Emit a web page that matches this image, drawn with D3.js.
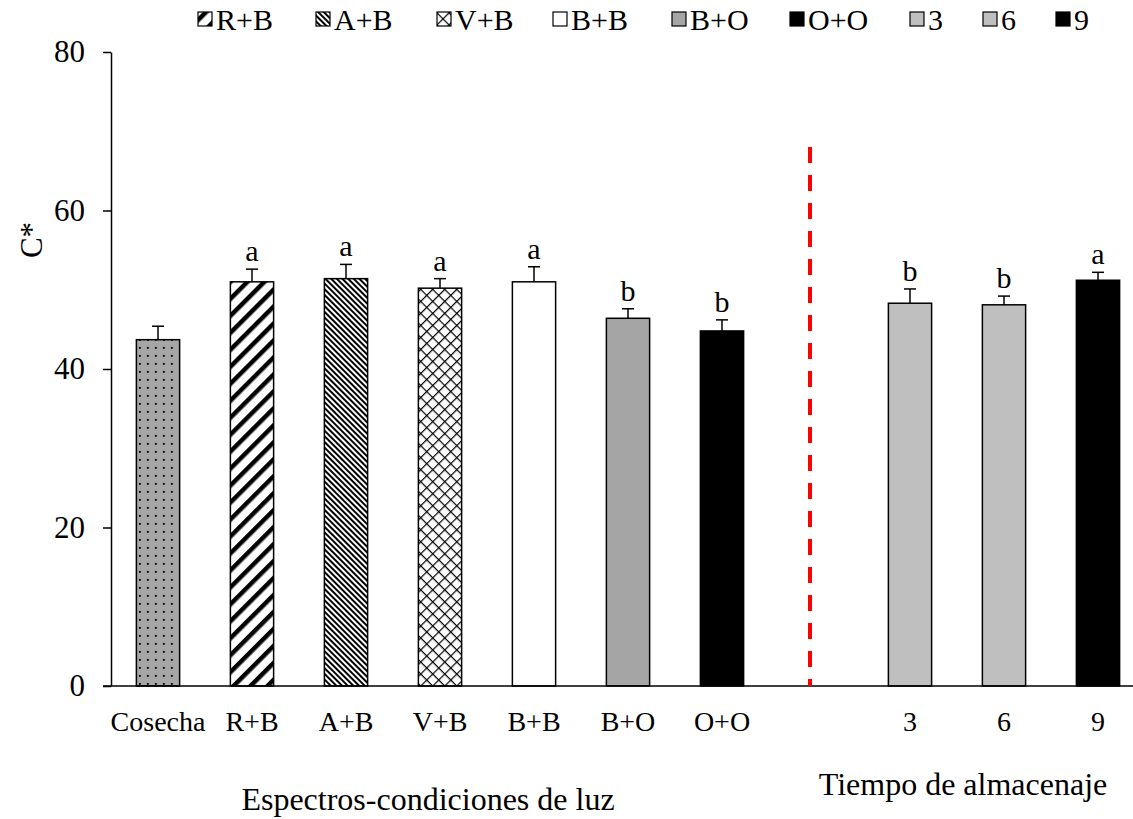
<!DOCTYPE html>
<html>
<head>
<meta charset="utf-8">
<script src="https://cdn.jsdelivr.net/npm/d3@7"></script>
<style>
body { margin: 0; background: #fff; }
svg text { font-family: "Liberation Serif", "Times New Roman", serif; }
</style>
</head>
<body>
<svg id="chart" width="1133" height="819"></svg>
<script>
// data
var categories = ["Cosecha", "R+B", "A+B", "V+B", "B+B", "B+O", "O+O", "", "3", "6", "9"];
var values = [43.7, 51.0, 51.4, 50.2, 51.0, 46.4, 44.8, null, 48.3, 48.1, 51.2];
var errors = [1.7, 1.6, 1.8, 1.2, 1.9, 1.2, 1.4, null, 1.8, 1.1, 1.0];
var letters = ["", "a", "a", "a", "a", "b", "b", "", "b", "b", "a"];
var fills = ["url(#dots)", "url(#wide)", "url(#narrow)", "url(#lattice)", "#ffffff", "#a5a5a5", "#000000", "none", "#bfbfbf", "#bfbfbf", "#000000"];
var legendKeys = ["R+B", "A+B", "V+B", "B+B", "B+O", "O+O", "3", "6", "9"];
var yTicks = [0, 20, 40, 60, 80];

var svg = d3.select("#chart");
var mLeft = 111, mRight = 1145, mTop = 52, mBottom = 686;

var x = d3.scaleBand().domain(categories).range([mLeft, mRight]).paddingInner(0.54).paddingOuter(0.27);
var y = d3.scaleLinear().domain([0, 80]).range([mBottom, mTop]);

// patterns
var defs = svg.append("defs");
var p = defs.append("pattern").attr("id", "dots").attr("patternUnits", "userSpaceOnUse")
  .attr("width", 8).attr("height", 8);
p.append("rect").attr("width", 8).attr("height", 8).attr("fill", "#a6a6a6");
p.append("rect").attr("x", 3).attr("y", 3).attr("width", 1.8).attr("height", 1.8).attr("fill", "#000");

p = defs.append("pattern").attr("id", "wide").attr("patternUnits", "userSpaceOnUse")
  .attr("width", 12).attr("height", 12).attr("patternTransform", "rotate(45)");
p.append("rect").attr("width", 12).attr("height", 12).attr("fill", "#fff");
p.append("rect").attr("width", 4.5).attr("height", 12).attr("fill", "#000");

p = defs.append("pattern").attr("id", "narrow").attr("patternUnits", "userSpaceOnUse")
  .attr("width", 4).attr("height", 4).attr("patternTransform", "rotate(-45)");
p.append("rect").attr("width", 4).attr("height", 4).attr("fill", "#fff");
p.append("rect").attr("width", 2).attr("height", 4).attr("fill", "#000");

p = defs.append("pattern").attr("id", "lattice").attr("patternUnits", "userSpaceOnUse")
  .attr("width", 8.5).attr("height", 8.5).attr("patternTransform", "rotate(45)");
p.append("rect").attr("width", 8.5).attr("height", 8.5).attr("fill", "#fff");
p.append("rect").attr("width", 1.2).attr("height", 8.5).attr("fill", "#000");
p.append("rect").attr("width", 8.5).attr("height", 1.2).attr("fill", "#000");

var data = categories.map(function(c, i) {
  return { cat: c, v: values[i], e: errors[i], l: letters[i], fill: fills[i] };
}).filter(function(d) { return d.v !== null; });

// bars
svg.selectAll("rect.bar").data(data).enter().append("rect")
  .attr("class", "bar")
  .attr("x", function(d) { return x(d.cat); })
  .attr("y", function(d) { return y(d.v); })
  .attr("width", x.bandwidth())
  .attr("height", function(d) { return y(0) - y(d.v); })
  .attr("fill", function(d) { return d.fill; })
  .attr("stroke", "#000").attr("stroke-width", 1.5);

// error bars
var eb = svg.selectAll("g.err").data(data).enter().append("g").attr("class", "err");
eb.append("line")
  .attr("x1", function(d) { return x(d.cat) + x.bandwidth() / 2; })
  .attr("x2", function(d) { return x(d.cat) + x.bandwidth() / 2; })
  .attr("y1", function(d) { return y(d.v); })
  .attr("y2", function(d) { return y(d.v + d.e); })
  .attr("stroke", "#000").attr("stroke-width", 1.5);
eb.append("line")
  .attr("x1", function(d) { return x(d.cat) + x.bandwidth() / 2 - 6; })
  .attr("x2", function(d) { return x(d.cat) + x.bandwidth() / 2 + 6; })
  .attr("y1", function(d) { return y(d.v + d.e); })
  .attr("y2", function(d) { return y(d.v + d.e); })
  .attr("stroke", "#000").attr("stroke-width", 1.5);
eb.append("text")
  .attr("x", function(d) { return x(d.cat) + x.bandwidth() / 2; })
  .attr("y", function(d) { return y(d.v + d.e) - 8; })
  .attr("text-anchor", "middle").attr("font-size", "30px")
  .text(function(d) { return d.l; });

// axes
var yAxis = svg.append("g").attr("transform", "translate(" + mLeft + ",0)")
  .call(d3.axisLeft(y).tickValues(yTicks).tickSize(8).tickPadding(18).tickSizeOuter(0));
yAxis.attr("font-family", null);
yAxis.selectAll("text").attr("font-size", "31px").attr("fill", "#000");
yAxis.selectAll("line, path").attr("stroke", "#000").attr("stroke-width", 1.5);

svg.append("line").attr("x1", mLeft - 8).attr("x2", 1133)
  .attr("y1", y(0)).attr("y2", y(0)).attr("stroke", "#000").attr("stroke-width", 1.5);

svg.selectAll("text.xl").data(categories.filter(function(c) { return c !== ""; })).enter()
  .append("text").attr("class", "xl")
  .attr("x", function(c) { return x(c) + x.bandwidth() / 2; })
  .attr("y", 731).attr("text-anchor", "middle").attr("font-size", "28px")
  .text(function(c) { return c; });

// dashed separator
var sepX = x("") + x.bandwidth() / 2 - 6;
svg.append("line").attr("x1", sepX).attr("x2", sepX)
  .attr("y1", y(68)).attr("y2", y(0))
  .attr("stroke", "#ff0000").attr("stroke-width", 4).attr("stroke-dasharray", "16,12");

// titles
svg.append("text").attr("transform", "translate(42,240) rotate(-90)")
  .attr("text-anchor", "middle").attr("font-size", "31px").text("C*");
svg.append("text").attr("x", 428).attr("y", 810).attr("text-anchor", "middle")
  .attr("font-size", "32px").text("Espectros-condiciones de luz");
svg.append("text").attr("x", 963).attr("y", 795).attr("text-anchor", "middle")
  .attr("font-size", "32px").text("Tiempo de almacenaje");

// legend
var legendX = [198, 316, 437, 553, 672, 790, 910, 983, 1056];
var legendFill = ["url(#wide)", "url(#narrow)", "url(#lattice)", "#ffffff", "#a5a5a5", "#000000", "#bfbfbf", "#bfbfbf", "#000000"];
var lg = svg.selectAll("g.leg").data(legendKeys).enter().append("g").attr("class", "leg")
  .attr("transform", function(d, i) { return "translate(" + legendX[i] + ",0)"; });
lg.append("rect").attr("x", 0).attr("y", 12).attr("width", 14).attr("height", 14)
  .attr("fill", function(d, i) { return legendFill[i]; })
  .attr("stroke", "#000").attr("stroke-width", 1.2);
lg.append("text").attr("x", 18).attr("y", 30).attr("font-size", "30px")
  .text(function(d) { return d; });
</script>
</body>
</html>
